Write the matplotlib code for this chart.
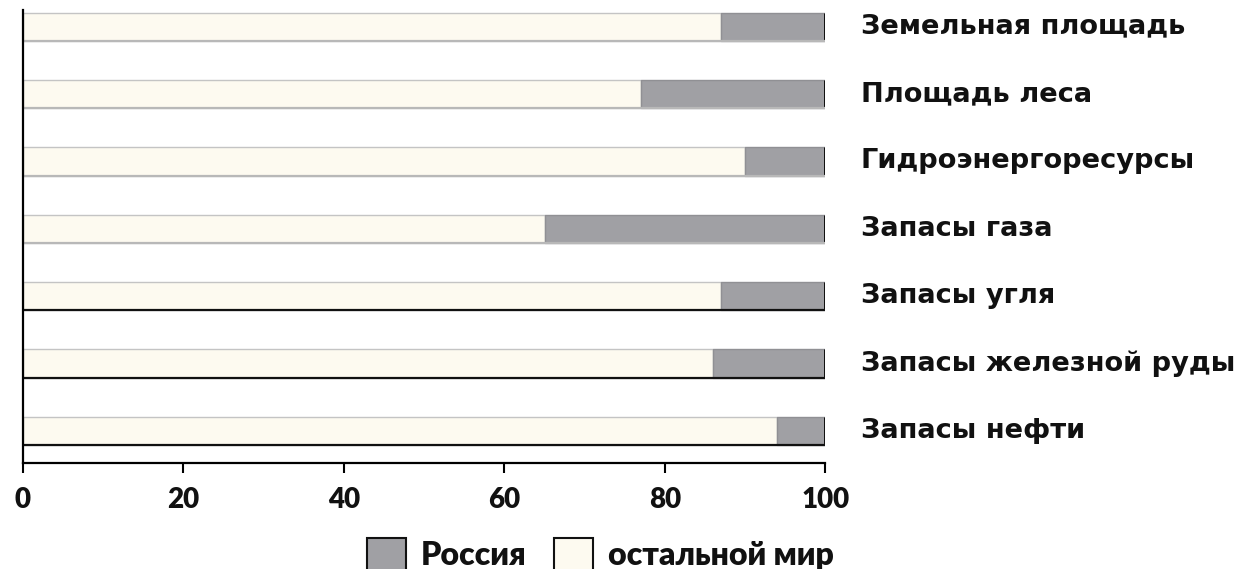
import numpy as np
import matplotlib.pyplot as plt

plt.rcParams['font.family'] = ['Lato', 'DejaVu Sans']
plt.rcParams['font.weight'] = 'bold'

# Доля России в мировых ресурсах, %
categories = ['Земельная площадь', 'Площадь леса', 'Гидроэнергоресурсы',
              'Запасы газа', 'Запасы угля', 'Запасы железной руды', 'Запасы нефти']
russia = [13, 23, 10, 35, 13, 14, 6]
rest = [100 - v for v in russia]
xticks = [0, 20, 40, 60, 80, 100]

fig = plt.figure(figsize=(12.48, 5.69), dpi=100)
ax = fig.add_axes([0.0184, 0.1863, 0.643, 0.7962])

y = np.arange(len(categories))
h = 0.42
ax.barh(y, rest, height=h, color='#fdfaf0', edgecolor='#c4c4c4', linewidth=1.0,
        label='остальной мир')
ax.barh(y, russia, left=rest, height=h, color='#a0a0a4', edgecolor='#909094',
        linewidth=1.0, label='Россия')
totals = np.array(rest) + np.array(russia)
ax.vlines(totals, y - h / 2, y + h / 2, color='black', linewidth=2)
# у нижних трёх полос нижний край тёмный
bottom_color = ['#b8b8b8'] * 4 + ['#111111'] * 3
ax.hlines(y + h / 2, 0, totals, colors=bottom_color, linewidth=1.6)

ax.set_xlim(0, 100)
ax.set_ylim(6.48, -0.25)
ax.set_xticks(xticks)
ax.set_xticklabels([str(t) for t in xticks], fontsize=20, fontweight='heavy',
                   color='#111111')
ax.set_yticks([])
ax.spines['top'].set_visible(False)
ax.spines['right'].set_visible(False)
ax.spines['left'].set_linewidth(1.6)
ax.spines['bottom'].set_linewidth(1.6)
ax.tick_params(axis='x', direction='out', length=7.2, width=1.5, pad=10)

for yi, name in zip(y, categories):
    ax.text(104.4, yi, name, va='center', ha='left', fontsize=19.6,
            fontweight='bold', color='#111111', family=['DejaVu Sans'])

handles, labels = ax.get_legend_handles_labels()
leg = fig.legend(handles[::-1], labels[::-1], loc='center',
                 bbox_to_anchor=(0.481, 0.026), ncol=2, frameon=False,
                 prop={'size': 23, 'weight': 'heavy'},
                 handlelength=1.22, handleheight=1.22,
                 columnspacing=0.87, handletextpad=0.47)
for p in leg.get_patches():
    p.set_edgecolor('#111111')
    p.set_linewidth(1.5)
for t in leg.get_texts():
    t.set_color('#111111')

fig.savefig('out.png', dpi=100)
